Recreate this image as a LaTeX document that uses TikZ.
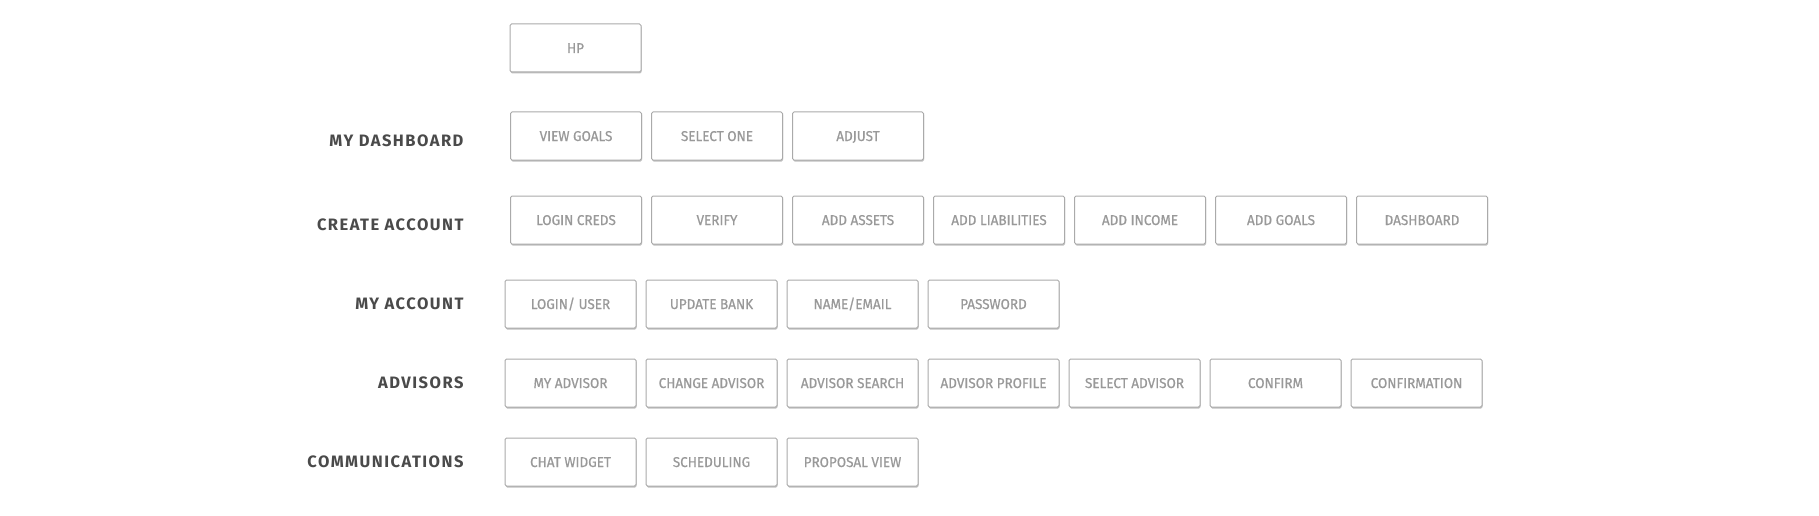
\documentclass[tikz,border=0pt]{standalone}
\usepackage{fontspec}
\usetikzlibrary{positioning,shadows}
\newfontfamily\boxfont[FakeStretch=0.95,FakeBold=0.6]{Fira Sans}
\newfontfamily\rowfont[LetterSpace=9]{Fira Sans}
\definecolor{boxline}{HTML}{AAAAAA}
\definecolor{boxtext}{HTML}{999999}
\definecolor{rowtext}{HTML}{4A4A4A}

\begin{document}
\begin{tikzpicture}[x=1pt,y=-1pt,node distance=10pt,
  page/.style={draw=boxline,line width=1pt,fill=white,rounded corners=1.5pt,
    minimum width=131pt,minimum height=48pt,inner sep=0pt,outer sep=0pt,
    text height=10pt,text depth=0pt,
    text=boxtext,font=\boxfont\fontsize{14.2}{15}\selectfont,
    drop shadow={shadow xshift=0.5pt,shadow yshift=-1.5pt,opacity=0.25,fill=black}},
  row/.style={anchor=east,text=rowtext,font=\rowfont\bfseries\fontsize{16.5}{18}\selectfont}]

\useasboundingbox (0,0) rectangle (1819,516);

\node (hp) [page] at (575.5,48) {HP};

% my dashboard
\node (ldash) [row] at (467,141) {MY DASHBOARD};
\node (goals) [page] at (576,136) {VIEW GOALS};
\node (selone) [page,right=of goals] {SELECT ONE};
\node (adjust) [page,right=of selone] {ADJUST};

% create account
\node (lcreate) [row] at (467,225) {CREATE ACCOUNT};
\node (creds) [page] at (576,220) {LOGIN CREDS};
\node (verify) [page,right=of creds] {VERIFY};
\node (assets) [page,right=of verify] {ADD ASSETS};
\node (liab) [page,right=of assets] {ADD LIABILITIES};
\node (income) [page,right=of liab] {ADD INCOME};
\node (addgoals) [page,right=of income] {ADD GOALS};
\node (dash) [page,right=of addgoals] {DASHBOARD};

% my account
\node (laccount) [row] at (467,304) {MY ACCOUNT};
\node (login) [page] at (570.5,304) {LOGIN/ USER};
\node (bank) [page,right=of login] {UPDATE BANK};
\node (email) [page,right=of bank] {NAME/EMAIL};
\node (pass) [page,right=of email] {PASSWORD};

% advisors
\node (ladv) [row] at (467,383) {ADVISORS};
\node (myadv) [page] at (570.5,383) {MY ADVISOR};
\node (chadv) [page,right=of myadv] {CHANGE ADVISOR};
\node (search) [page,right=of chadv] {ADVISOR SEARCH};
\node (profile) [page,right=of search] {ADVISOR PROFILE};
\node (seladv) [page,right=of profile] {SELECT ADVISOR};
\node (confirm) [page,right=of seladv] {CONFIRM};
\node (confirmation) [page,right=of confirm] {CONFIRMATION};

% communications
\node (lcomm) [row] at (467,462) {COMMUNICATIONS};
\node (chat) [page] at (570.5,462) {CHAT WIDGET};
\node (sched) [page,right=of chat] {SCHEDULING};
\node (proposal) [page,right=of sched] {PROPOSAL VIEW};

\end{tikzpicture}
\end{document}
